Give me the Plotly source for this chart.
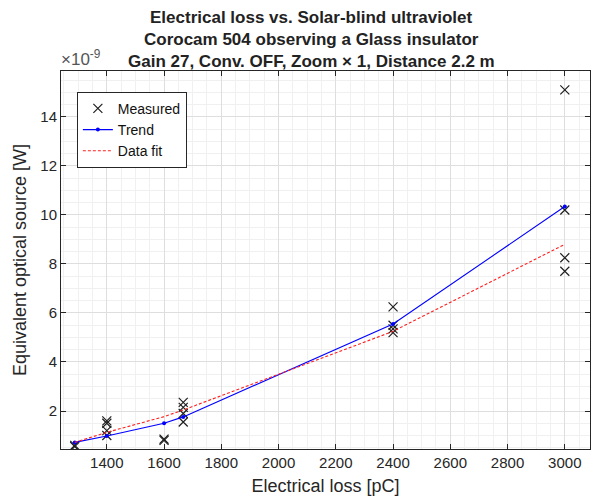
import plotly.graph_objects as go

# Measured optical source (x1e-9 W) for each electrical loss level (pC)
loss_1288 = [0.55, 0.6]
loss_1400 = [1.6, 1.5, 1.2, 1.0]
loss_1600 = [0.8, 0.85]
loss_1667 = [2.35, 2.15, 1.9, 1.55]
loss_2400 = [6.25, 5.5, 5.35, 5.2]
loss_3000 = [15.1, 10.2, 8.25, 7.7]
levels = [1288, 1400, 1600, 1667, 2400, 3000]
groups = [loss_1288, loss_1400, loss_1600, loss_1667, loss_2400, loss_3000]

# Trend and fitted curve at the same loss levels
trend_y = [0.72, 0.98, 1.5, 1.76, 5.55, 10.34]
fit_y = [0.72, 1.13, 1.77, 2.04, 5.25, 8.8]

title_lines = [
    "Electrical loss vs. Solar-blind ultraviolet",
    "Corocam 504 observing a Glass insulator",
    "Gain 27, Conv. OFF, Zoom × 1, Distance 2.2 m",
]

meas_x = [lv for lv, g in zip(levels, groups) for _ in g]
meas_y = [v for g in groups for v in g]

FONT = "Liberation Sans, Arial, sans-serif"
TXT = "#262626"
W, H = 595, 499

fig = go.Figure()
fig.add_trace(go.Scatter(
    x=meas_x, y=meas_y, mode="markers", name="Measured",
    marker=dict(symbol="x-thin", size=9, color="#202020",
                line=dict(width=1.2, color="#202020")),
))
fig.add_trace(go.Scatter(
    x=levels, y=trend_y, mode="lines+markers", name="Trend",
    line=dict(color="#0000ff", width=1.1),
    marker=dict(symbol="circle", size=4, color="#0000ff"),
))
fig.add_trace(go.Scatter(
    x=levels, y=fit_y, mode="lines", name="Data fit",
    line=dict(color="#ff2020", width=1.1, dash="3px,2px"),
))

axis_common = dict(
    showline=True, linecolor="#262626", linewidth=1, mirror="allticks",
    ticks="inside", ticklen=5, tickcolor="#262626", tickwidth=1,
    showgrid=True, gridcolor="#dedede", gridwidth=1, zeroline=False,
    tickfont=dict(family=FONT, size=15, color=TXT),
)

fig.update_xaxes(
    range=[1240, 3088], tickmode="array",
    tickvals=[1400, 1600, 1800, 2000, 2200, 2400, 2600, 2800, 3000],
    minor=dict(dtick=50, tick0=1200, showgrid=True, gridcolor="#f0f0f0"),
    title=dict(text="Electrical loss [pC]", font=dict(family=FONT, size=18, color=TXT),
               standoff=9),
    **axis_common,
)
fig.update_yaxes(
    range=[0.45, 15.87], tickmode="array",
    tickvals=[2, 4, 6, 8, 10, 12, 14],
    minor=dict(dtick=0.5, tick0=0, showgrid=True, gridcolor="#f0f0f0"),
    title=dict(text="Equivalent optical source [W]",
               font=dict(family=FONT, size=18, color=TXT), standoff=9),
    **axis_common,
)

# Exponent label above the y axis
fig.add_annotation(
    text="×10<sup>-9</sup>", xref="paper", yref="paper", x=0, y=1.0,
    xanchor="left", yanchor="bottom", showarrow=False, yshift=0, xshift=-2,
    font=dict(family=FONT, size=17, color="#555555"),
)

# Three-line bold title
for line, py in zip(title_lines, [17, 39, 61]):
    fig.add_annotation(
        text=f"<b>{line}</b>", xref="paper", yref="paper",
        x=(311 - 61) / (W - 66), y=1 + (71 - py) / 378.5,
        xanchor="center", yanchor="middle", showarrow=False,
        font=dict(family=FONT, size=17, color="#222222"),
    )

fig.update_layout(
    width=W, height=H,
    margin=dict(l=61, r=5, t=71, b=49.5),
    paper_bgcolor="white", plot_bgcolor="white",
    legend=dict(
        x=0.03, y=0.945, xanchor="left", yanchor="top",
        bgcolor="white", bordercolor="#262626", borderwidth=1,
        font=dict(family=FONT, size=14, color="#111111"),
        tracegroupgap=0, itemwidth=30,
    ),
    showlegend=True,
)

fig.write_html("out.html")
